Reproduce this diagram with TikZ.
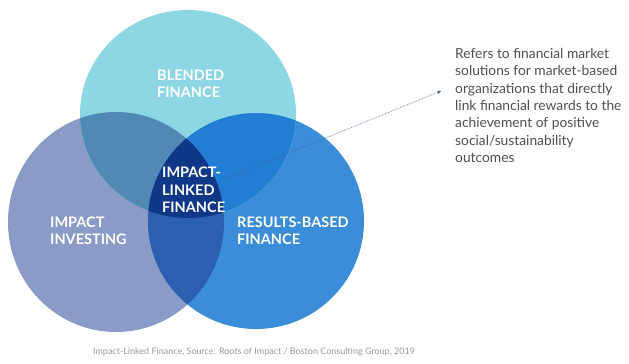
\documentclass[tikz,border=0pt]{standalone}
\usepackage{fontspec}
\setmainfont{Lato}
\usepackage{tikz}
\usetikzlibrary{arrows.meta}
\usepackage{xcolor}

\definecolor{blended}{HTML}{8DD6E3}
\definecolor{investing}{HTML}{8A9BC7}
\definecolor{results}{HTML}{3B8DD9}
\definecolor{blendinv}{HTML}{5089B4}
\definecolor{blendres}{HTML}{237DD2}
\definecolor{invres}{HTML}{2C5FAF}
\definecolor{linked}{HTML}{0F3787}
\definecolor{desctext}{HTML}{505050}
\definecolor{captext}{HTML}{9A9A9A}
\definecolor{pointer}{HTML}{3C5A96}

\def\blendedpath{(188,114) ellipse [x radius=108, y radius=104]}
\def\investpath{(116,222) ellipse [x radius=108, y radius=110]}
\def\resultspath{(256,221) ellipse [x radius=108, y radius=108]}

\tikzset{
  setlabel/.style={text=white, font=\bfseries\fontsize{14.5}{17.5}\selectfont, align=left, inner sep=0pt, anchor=west},
  desc/.style={text=desctext, font=\fontsize{13.8}{17.4}\selectfont, align=left, inner sep=0pt, anchor=north west},
}

\begin{document}
\begin{tikzpicture}[x=1pt, y=-1pt]
			\useasboundingbox[fill=white] (0,0) rectangle (629,364);
			\fill[investing] \investpath;
			\fill[results] \resultspath;
			\fill[blended] \blendedpath;
			\begin{scope}
				\clip \blendedpath;
				\fill[blendinv] \investpath;
			\end{scope}
			\begin{scope}
				\clip \blendedpath;
				\fill[blendres] \resultspath;
			\end{scope}
			\begin{scope}
				\clip \investpath;
				\fill[invres] \resultspath;
			\end{scope}
			\begin{scope}
				\clip \blendedpath;
				\clip \investpath;
				\fill[linked] \resultspath;
			\end{scope}
			
			\node[setlabel] (bf) at (157,84) {BLENDED\\FINANCE};
			\node[setlabel] (ii) at (50,231) {IMPACT\\INVESTING};
			\node[setlabel] (rbf) at (237,231) {RESULTS-BASED\\FINANCE};
			\node[setlabel] (ilf) at (162,190) {IMPACT-\\LINKED\\FINANCE};
			
			\node[desc] (info) at (455,48) {Refers to financial market\\solutions for market-based\\organizations that directly\\link financial rewards to the\\achievement of positive\\social/sustainability\\outcomes};
			\coordinate (tip) at ([xshift=-14pt, yshift=-43pt]info.north west);
			\draw[pointer, line width=0.6pt, densely dotted, -{Stealth[length=4pt, width=3.5pt]}] ([yshift=-12pt]ilf.north east) -- (tip);
			
			\node[text=captext, font=\fontsize{9}{11}\selectfont, inner sep=0pt] (cap) at (254,352) {Impact-Linked Finance, Source: Roots of Impact / Boston Consulting Group, 2019};
		\end{tikzpicture}
\end{document}
